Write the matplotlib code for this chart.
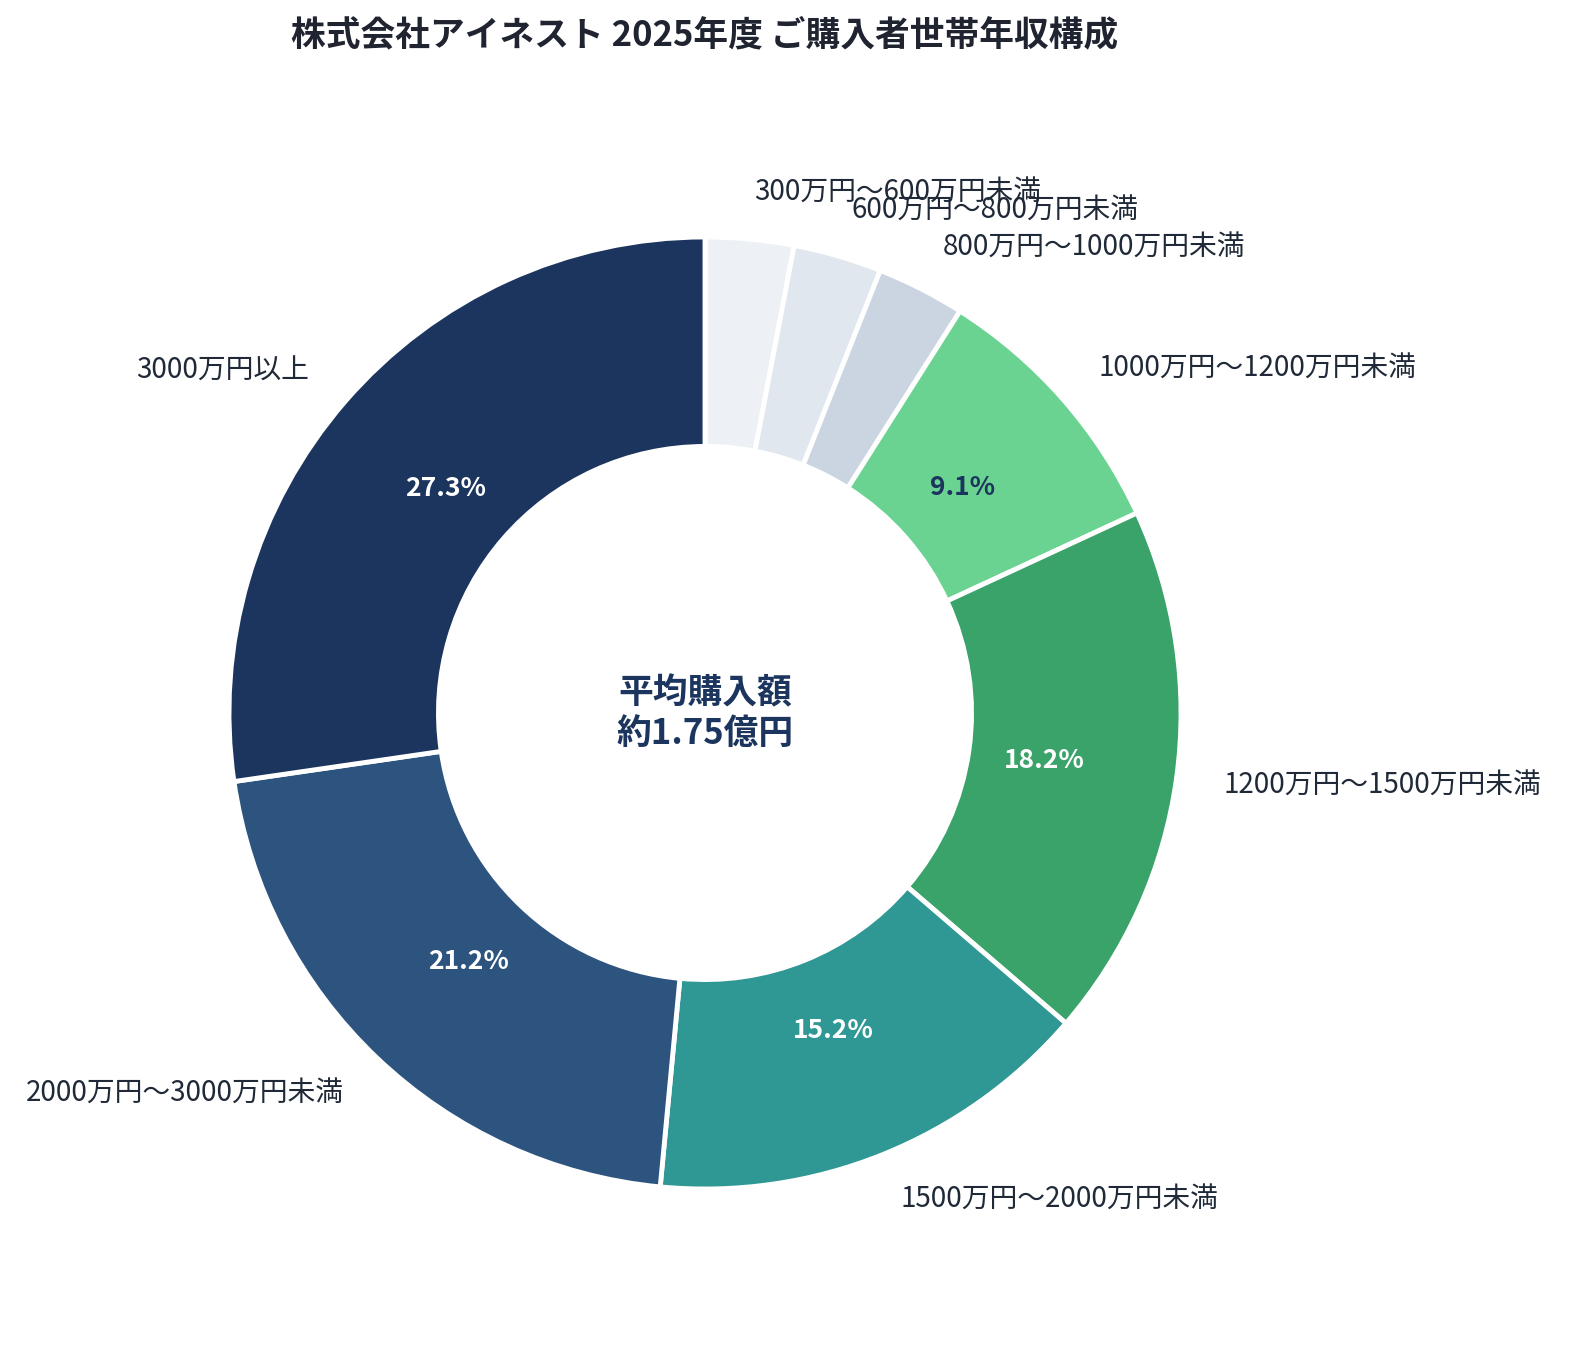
import matplotlib
matplotlib.use("Agg")
import matplotlib.pyplot as plt

plt.rcParams["font.family"] = ["Noto Sans CJK JP", "DejaVu Sans"]

# data (% of buyers)
categories = [
    "300万円〜600万円未満",
    "600万円〜800万円未満",
    "800万円〜1000万円未満",
    "1000万円〜1200万円未満",
    "1200万円〜1500万円未満",
    "1500万円〜2000万円未満",
    "2000万円〜3000万円未満",
    "3000万円以上",
]
shares = [3.0, 3.0, 3.0, 9.1, 18.2, 15.2, 21.2, 27.3]
colors = ["#edf1f5", "#e1e7ef", "#cbd5e1", "#6ad391", "#3aa36a",
          "#2f9794", "#2d547f", "#1c355e"]
pct_colors = ["#ffffff", "#ffffff", "#ffffff", "#1c355e", "#ffffff",
              "#ffffff", "#ffffff", "#ffffff"]

title = "株式会社アイネスト 2025年度 ご購入者世帯年収構成"
center_text = "平均購入額\n約1.75億円"

W, H = 1589, 1350
fig = plt.figure(figsize=(W / 100, H / 100), dpi=100)
cx, cy, r = 705, 713, 476
ax = fig.add_axes([(cx - r) / W, (H - cy - r) / H, 2 * r / W, 2 * r / H])

wedges, texts, autotexts = ax.pie(
    shares,
    labels=categories,
    colors=colors,
    startangle=90,
    counterclock=False,
    radius=1.0,
    labeldistance=1.1,
    pctdistance=0.72,
    autopct=lambda p: f"{p:.1f}%" if p >= 5 else "",
    wedgeprops=dict(width=0.44, edgecolor="white", linewidth=3.5),
    textprops=dict(fontsize=20, color="#1f2937"),
)
for t, c in zip(autotexts, pct_colors):
    t.set_color(c)
    t.set_fontsize(19)
    t.set_fontweight("bold")

ax.text(0, 0, center_text, ha="center", va="center", fontsize=25,
        fontweight="bold", color="#1c355e", linespacing=1.2)

ax.set_xlim(-1, 1)
ax.set_ylim(-1, 1)
ax.set_aspect("equal")
ax.axis("off")

fig.text(cx / W, 1 - 35 / H, title, ha="center", va="center",
         fontsize=25, fontweight="bold", color="#1f2430")

fig.savefig("out.png", dpi=100, facecolor="white")
